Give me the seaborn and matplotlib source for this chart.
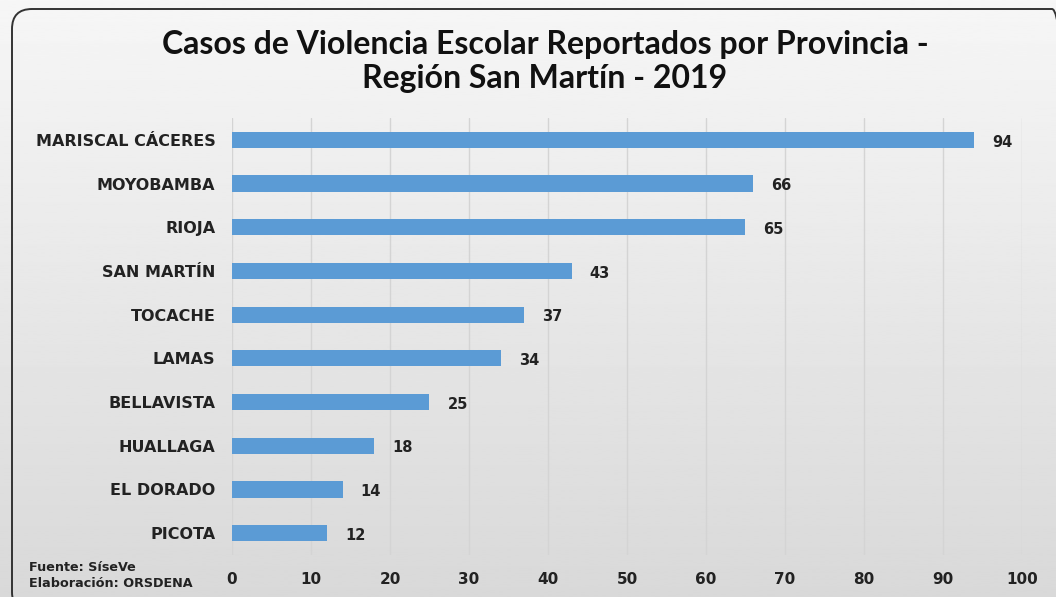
import numpy as np
import pandas as pd
import matplotlib
matplotlib.use('Agg')
import matplotlib.pyplot as plt
import seaborn as sns
from matplotlib.patches import FancyBboxPatch

# Data
provincias = ['MARISCAL CÁCERES', 'MOYOBAMBA', 'RIOJA', 'SAN MARTÍN', 'TOCACHE',
              'LAMAS', 'BELLAVISTA', 'HUALLAGA', 'EL DORADO', 'PICOTA']
casos = [94, 66, 65, 43, 37, 34, 25, 18, 14, 12]
x_ticks = [0, 10, 20, 30, 40, 50, 60, 70, 80, 90, 100]

df = pd.DataFrame({'Provincia': provincias, 'Casos': casos})

sns.set_style('white')
plt.rcParams['font.family'] = ['DejaVu Sans']

fig = plt.figure(figsize=(10.56, 5.97), dpi=100)

# background gradient (light at top, darker at bottom)
bg = fig.add_axes([0, 0, 1, 1], zorder=-10)
grad = np.linspace(0.965, 0.85, 256).reshape(-1, 1)
bg.imshow(grad, cmap='gray', vmin=0, vmax=1, aspect='auto', extent=[0, 1, 0, 1])
bg.axis('off')

# rounded border of the chart box (inches)
frame = FancyBboxPatch((0.12, -0.15), 10.6, 6.03, boxstyle='round,pad=0,rounding_size=0.2',
                       transform=fig.dpi_scale_trans, fill=False, edgecolor='#333333',
                       linewidth=1.4)
fig.patches.append(frame)

ax = fig.add_axes([0.2197, 0.0704, 0.748, 0.732])
ax.patch.set_alpha(0)
sns.barplot(data=df, y='Provincia', x='Casos', color='#5B9BD5', width=0.37,
            saturation=1, linewidth=0, ax=ax, zorder=3)

for i, v in enumerate(casos):
    ax.text(v + 2.3, i + 0.05, str(v), va='center', ha='left', fontsize=10.5,
            fontweight='bold', color='#222222')

ax.set_xlim(0, 100)
ax.set_xticks(x_ticks)
ax.grid(axis='x', color='#d4d4d4', linewidth=1, zorder=0)
ax.set_xlabel('')
ax.set_ylabel('')
for s in ax.spines.values():
    s.set_visible(False)
ax.tick_params(axis='both', length=0)
ax.tick_params(axis='x', pad=12)
ax.tick_params(axis='y', pad=12)
for lab in ax.get_xticklabels():
    lab.set_fontsize(11)
    lab.set_fontweight('bold')
    lab.set_color('#222222')
for lab in ax.get_yticklabels():
    lab.set_fontsize(11.5)
    lab.set_fontweight('bold')
    lab.set_color('#222222')

fig.text(0.516, 0.897, 'Casos de Violencia Escolar Reportados por Provincia -\nRegión San Martín - 2019',
         ha='center', va='center', fontsize=23, fontweight='bold', color='#111111',
         linespacing=1.2, family=['Lato', 'DejaVu Sans'])

fig.text(0.027, 0.012, 'Fuente: SíseVe\nElaboración: ORSDENA', ha='left', va='bottom',
         fontsize=9.2, fontweight='bold', color='#222222', linespacing=1.25)

fig.savefig('out.png', dpi=100)
